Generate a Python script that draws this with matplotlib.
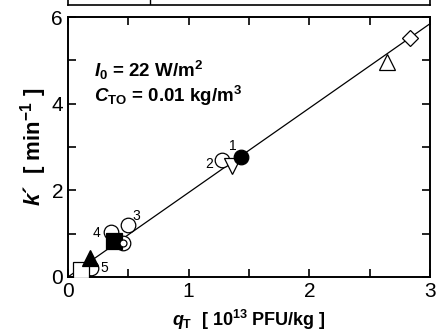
import numpy as np
import matplotlib
matplotlib.use("Agg")
from matplotlib import pyplot as plt

plt.rcParams["font.family"] = ["Liberation Sans", "DejaVu Sans"]
plt.rcParams["mathtext.fontset"] = "custom"
plt.rcParams["mathtext.rm"] = "Liberation Sans:bold"
plt.rcParams["mathtext.it"] = "Liberation Sans:bold:italic"
plt.rcParams["mathtext.bf"] = "Liberation Sans:bold"

# fitted line k' = slope * qT
line_x = [0.0, 3.0]
slope = 1.95

# points: x, y, marker, facecolor
pts_x = [2.83, 2.64, 1.28, 1.36, 1.43, 0.50, 0.36, 0.19, 0.11, 0.46, 0.38, 0.18]
pts_y = [5.52, 4.96, 2.70, 2.56, 2.77, 1.20, 1.04, 0.20, 0.16, 0.78, 0.83, 0.45]
pts_m = ["D", "^", "o", "v", "o", "o", "o", "o", "s", "o", "s", "^"]
pts_fill = ["w", "w", "w", "w", "k", "w", "w", "w", "w", "w", "k", "k"]
pts_size = [8, 11, 10.5, 11, 10.5, 10.5, 10.5, 10.5, 11, 10.5, 11, 11]

# numbered labels
lab_txt = ["1", "2", "3", "4", "5"]
lab_x = [1.37, 1.17, 0.57, 0.24, 0.30]
lab_y = [3.02, 2.60, 1.40, 1.02, 0.20]

fig = plt.figure(figsize=(4.38, 3.36), dpi=100)
ax = fig.add_axes([0.155, 0.1756, 0.827, 0.7734])

# strip of the panel above
ax_top = fig.add_axes([0.155, 1 - 5 / 336, 0.827, 0.2])
ax_top.set_xlim(0, 3)
ax_top.set_ylim(0, 1)
ax_top.axvline(0.68, color="k", lw=1)
ax_top.set_xticks([])
ax_top.set_yticks([])
for s in ax_top.spines.values():
    s.set_linewidth(1.2)

xx = np.array(line_x)
ax.plot(xx, slope * xx, color="k", lw=0.9, zorder=2)

for x, y, m, f, s in zip(pts_x, pts_y, pts_m, pts_fill, pts_size):
    ax.plot(x, y, marker=m, ms=s, mfc=f, mec="k", mew=0.9, ls="none", zorder=3)
# bullseye inner dot
ax.plot(pts_x[9], pts_y[9], marker="o", ms=5, mfc="w", mec="k", mew=0.9, zorder=4)

for t, x, y in zip(lab_txt, lab_x, lab_y):
    ax.text(x, y, t, fontsize=10, ha="center", va="center")

ax.text(0.22, 4.62, r"$\mathit{I}_0$ = 22 W/m$^2$", fontsize=13.5, fontweight="bold")
ax.text(0.22, 4.05, r"$\mathit{C}_\mathrm{TO}$ = 0.01 kg/m$^3$", fontsize=13.5, fontweight="bold")

ax.set_xlim(0, 3)
ax.set_ylim(0, 6)
ax.set_xticks([0, 1, 2, 3])
ax.set_xticks(np.arange(0, 3.01, 0.5), minor=True)
ax.set_yticks([0, 2, 4, 6])
ax.set_yticks(np.arange(0, 6.01, 1), minor=True)
ax.tick_params(which="both", direction="in", top=True, right=True, labelsize=15, width=1.2)
ax.tick_params(which="major", length=6)
ax.tick_params(which="minor", length=6)
for s in ax.spines.values():
    s.set_linewidth(1.4)

ax.set_xlabel(r"$\mathit{q}_\mathrm{T}$  [ 10$^{13}$ PFU/kg ]", fontsize=13, fontweight="bold", labelpad=5)
ax.set_ylabel(r"$\mathit{k}$´  [ min$^{-1}$ ]", fontsize=16, fontweight="bold", labelpad=2)

plt.savefig("out.png", dpi=100)
